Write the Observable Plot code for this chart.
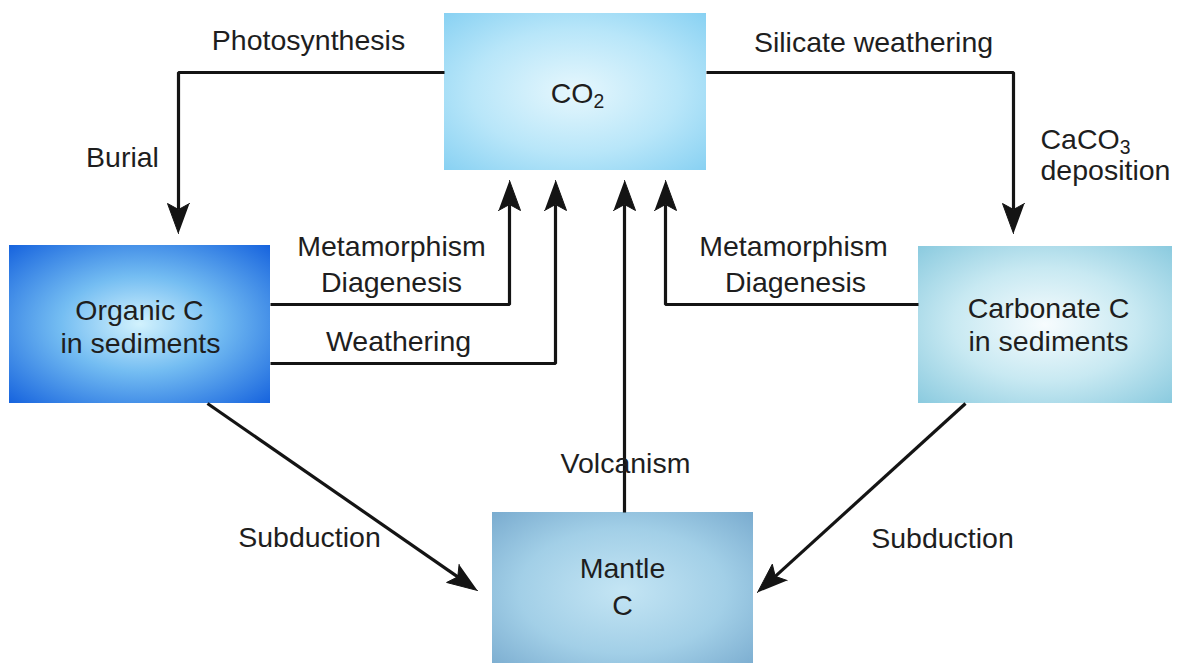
<!DOCTYPE html>
<html>
<head>
<meta charset="utf-8">
<script src="https://cdn.jsdelivr.net/npm/d3@7"></script>
<script src="https://cdn.jsdelivr.net/npm/@observablehq/plot@0.6"></script>
<style>
  html, body { margin: 0; padding: 0; background: #ffffff; }
  #chart { width: 1178px; height: 663px; }
</style>
</head>
<body>
<div id="chart"></div>
<script>
// Diagram coordinate system: x 0..1178, y 0..663 (top to bottom)

// Reservoir boxes
const boxNames = ["CO2", "Organic C", "Carbonate C", "Mantle C"];
const boxX1 = [444, 9, 918, 492];
const boxX2 = [706, 270, 1172, 753];
const boxY1 = [13, 245, 246, 512];
const boxY2 = [170, 403, 403, 670];
const boxGradients = ["g-co2", "g-org", "g-carb", "g-mantle"];

// Gradient colours (center -> edge)
const gradStops = {
  "g-co2":    [[0, "#e6f7fd"], [0.55, "#b8e6f9"], [1, "#86d0f2"]],
  "g-org":    [[0, "#d2f2fd"], [0.42, "#74bdf2"], [1, "#1360dd"]],
  "g-carb":   [[0, "#f7fcfe"], [0.5, "#c8e9f2"], [1, "#88c9de"]],
  "g-mantle": [[0, "#c4e5f4"], [0.55, "#a2cfe7"], [1, "#78aace"]]
};

// Flow connectors (paths end at arrow tips)
const flowNames = ["Photosynthesis/Burial", "Silicate weathering/CaCO3 deposition",
  "Metamorphism (organic)", "Weathering", "Volcanism", "Metamorphism (carbonate)",
  "Subduction (organic)", "Subduction (carbonate)"];
const flowPaths = [
  [[444, 72], [178, 72], [178, 233]],
  [[706, 72], [1013, 72], [1013, 233]],
  [[270, 304], [509, 304], [509, 180]],
  [[270, 363], [555, 363], [555, 180]],
  [[624, 512], [624, 180]],
  [[918, 304], [665, 304], [665, 180]],
  [[207, 403], [477, 590]],
  [[965, 403], [757, 592]]
];

// Labels
const labelTexts = ["CO2", "Photosynthesis", "Silicate weathering", "Burial", "CaCO3", "deposition",
  "Metamorphism", "Diagenesis", "Weathering", "Metamorphism", "Diagenesis",
  "Organic C", "in sediments", "Carbonate C", "in sediments",
  "Volcanism", "Subduction", "Subduction", "Mantle", "C"];
const labelX = [577, 308, 873, 122, 1040, 1040, 391, 391, 398, 793, 795,
  139, 140, 1048, 1048, 625, 309, 942, 622, 622];
const labelY = [93, 40, 42, 157, 139, 170, 246, 282, 341, 246, 282,
  310, 343, 308, 341, 463, 537, 538, 568, 605];
const labelAnchor = ["middle", "middle", "middle", "middle", "start", "start",
  "middle", "middle", "middle", "middle", "middle",
  "middle", "middle", "middle", "middle", "middle", "middle", "middle", "middle", "middle"];

// Build tables
const boxes = boxNames.map((name, i) => ({name, x1: boxX1[i], x2: boxX2[i], y1: boxY1[i], y2: boxY2[i], grad: boxGradients[i]}));
const labels = labelTexts.map((text, i) => ({text, x: labelX[i], y: labelY[i], anchor: labelAnchor[i]}));

const headLen = 30, headHalf = 11, notch = 6;
const lineRows = [];
const headRows = [];
flowPaths.forEach((path, k) => {
  const n = path.length;
  const tip = path[n - 1], prev = path[n - 2];
  const dx = tip[0] - prev[0], dy = tip[1] - prev[1];
  const len = Math.hypot(dx, dy);
  const ux = dx / len, uy = dy / len;
  const px = -uy, py = ux;
  const bx = tip[0] - headLen * ux, by = tip[1] - headLen * uy;
  const nx = tip[0] - (headLen - notch) * ux, ny = tip[1] - (headLen - notch) * uy;
  path.slice(0, n - 1).forEach(p => lineRows.push({flow: flowNames[k], x: p[0], y: p[1]}));
  lineRows.push({flow: flowNames[k], x: nx, y: ny});
  [[tip[0], tip[1]], [bx + headHalf * px, by + headHalf * py], [nx, ny], [bx - headHalf * px, by - headHalf * py]]
    .forEach(p => headRows.push({flow: flowNames[k], x: p[0], y: p[1]}));
});

const svg = Plot.plot({
  width: 1178,
  height: 663,
  margin: 0,
  x: {domain: [0, 1178], axis: null},
  y: {domain: [663, 0], axis: null},
  style: {background: "#ffffff", fontFamily: "'Liberation Sans', Arial, Helvetica, sans-serif"},
  marks: [
    ...boxes.map(b => Plot.rect([b], {x1: "x1", x2: "x2", y1: "y1", y2: "y2", fill: `url(#${b.grad})`})),
    Plot.line(lineRows, {x: "x", y: "y", z: "flow", stroke: "#141414", strokeWidth: 3.2, strokeLinejoin: "miter", strokeLinecap: "butt"}),
    Plot.line(headRows, {x: "x", y: "y", z: "flow", fill: "#141414", stroke: "#141414", strokeWidth: 1, strokeLinejoin: "miter"}),
    Plot.text(labels.filter(d => d.anchor === "middle"), {x: "x", y: "y", text: "text", textAnchor: "middle", lineAnchor: "middle", fontSize: 28.5, fill: "#1e1e1e"}),
    Plot.text(labels.filter(d => d.anchor === "start"), {x: "x", y: "y", text: "text", textAnchor: "start", lineAnchor: "middle", fontSize: 28.5, fill: "#1e1e1e"})
  ]
});

// Gradient definitions
const defs = d3.select(svg).insert("defs", ":first-child");
Object.entries(gradStops).forEach(([id, stops]) => {
  const g = defs.append("radialGradient").attr("id", id)
    .attr("cx", "50%").attr("cy", "50%").attr("r", "72%");
  stops.forEach(([o, c]) => g.append("stop").attr("offset", o).attr("stop-color", c));
});

// Chemical subscripts
d3.select(svg).selectAll("text").filter(function () { return this.textContent === "CO2" || this.textContent === "CaCO3"; })
  .each(function () {
    const t = d3.select(this);
    const s = this.textContent;
    t.text(s.slice(0, -1));
    t.append("tspan").attr("dy", "0.3em").attr("font-size", "0.68em").text(s.slice(-1));
  });

document.getElementById("chart").appendChild(svg);
</script>
</body>
</html>
